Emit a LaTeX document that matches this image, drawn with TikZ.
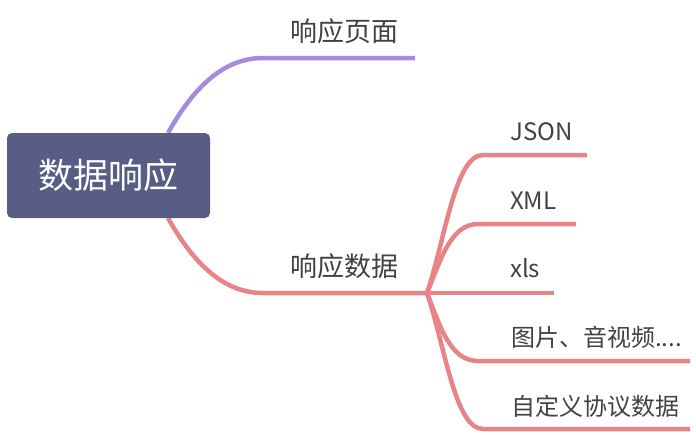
\documentclass[tikz,border=0pt]{standalone}
\usepackage{fontspec}
\setmainfont{Noto Sans CJK SC}

\definecolor{rootblue}{HTML}{575D85}
\definecolor{branchpurple}{HTML}{A78BDB}
\definecolor{branchred}{HTML}{E88387}
\definecolor{labelgray}{HTML}{424242}

\begin{document}
\begin{tikzpicture}[x=1pt, y=-1pt,
    root/.style={fill=rootblue, text=white, rounded corners=5pt,
        minimum width=203pt, minimum height=85pt, inner sep=0pt,
        font=\fontsize{35}{35}\selectfont},
    branch/.style={line width=4.5pt},
    topic/.style={anchor=base west, inner sep=0pt, text=labelgray,
        font=\fontsize{27}{27}\selectfont},
    leaf/.style={anchor=base west, inner sep=0pt, text=labelgray,
        font=\fontsize{24}{24}\selectfont}]

    \useasboundingbox (0,0) rectangle (696,434);

    % Branch points
    \coordinate (pageStart) at (168,133);
    \coordinate (pageL) at (263,58);
    \coordinate (pageR) at (415,58);
    \coordinate (dataStart) at (168,218);
    \coordinate (dataL) at (263,293);
    \coordinate (hub) at (427,293);

    % Line ends of the leaves
    \coordinate (jsonL) at (483,155);  \coordinate (jsonR) at (587,155);
    \coordinate (xmlL) at (478,224);   \coordinate (xmlR) at (576,224);
    \coordinate (xlsR) at (554,293);
    \coordinate (mediaL) at (478,361); \coordinate (mediaR) at (690,361);
    \coordinate (customL) at (483,429); \coordinate (customR) at (690,429);

    % Upper branch (purple)
    \draw[branch, branchpurple] (pageStart) .. controls (195,85) and (225,58) .. (pageL) -- (pageR);

    % Lower branch (red)
    \draw[branch, branchred] (dataStart) .. controls (195,266) and (225,293) .. (dataL) -- (hub);

    % Leaves of the red branch
    \draw[branch, branchred] (hub) .. controls (445,240) and (455,155) .. (jsonL) -- (jsonR);
    \draw[branch, branchred] (hub) .. controls (440,262) and (450,224) .. (xmlL) -- (xmlR);
    \draw[branch, branchred] (hub) -- (xlsR);
    \draw[branch, branchred] (hub) .. controls (440,326) and (450,361) .. (mediaL) -- (mediaR);
    \draw[branch, branchred] (hub) .. controls (445,346) and (455,429) .. (customL) -- (customR);

    % Root
    \node[root] (rootTopic) at (108.5,175.5) {数据响应};

    % Labels
    \node[topic] (pageLabel) at (290,41) {响应页面};
    \node[topic] (dataLabel) at (290,276) {响应数据};
    \node[leaf] (jsonLabel) at (510,140) {JSON};
    \node[leaf] (xmlLabel) at (510,209) {XML};
    \node[leaf] (xlsLabel) at (510,277) {xls};
    \node[leaf] (mediaLabel) at (511,346) {图片、音视频....};
    \node[leaf] (customLabel) at (511,415) {自定义协议数据};

\end{tikzpicture}
\end{document}
